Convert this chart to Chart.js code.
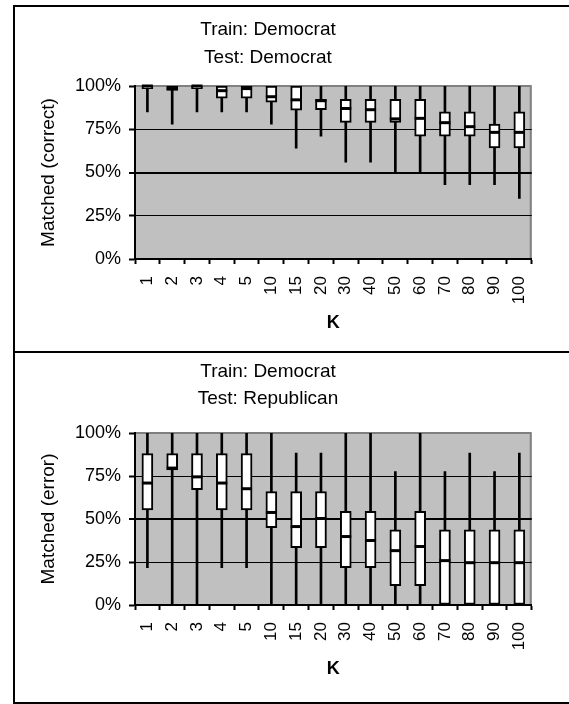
<!DOCTYPE html>
<html>
<head>
<meta charset="utf-8">
<script src="https://cdn.jsdelivr.net/npm/chart.js@4/dist/chart.umd.min.js"></script>
<style>
  html, body { margin: 0; padding: 0; overflow: hidden; background: #fff; width: 569px; height: 704px; }
  #frame { position: absolute; left: 13px; top: 5px; width: 620px; height: 699px; border: 2px solid #000; box-sizing: border-box; }
  #divider { position: absolute; left: 13px; top: 351px; width: 620px; height: 2px; background: #000; }
  canvas { position: absolute; left: -15px; }
  #topChart { top: 5px; }
  #bottomChart { top: 353px; }
</style>
</head>
<body>
<div id="frame"></div>
<div id="divider"></div>
<canvas id="topChart" width="567" height="346"></canvas>
<canvas id="bottomChart" width="567" height="349"></canvas>
<script>
// categories and tick labels
const kLabels = ["1", "2", "3", "4", "5", "10", "15", "20", "30", "40", "50", "60", "70", "80", "90", "100"];
const yTicks = [0, 25, 50, 75, 100];

// Train: Democrat / Test: Democrat  (matched, correct)
const correctMin = [85, 78, 85, 85, 85, 78, 64, 71, 56, 56, 49.5, 50, 43, 43, 43, 35];
const correctQ1 = [98.5, 97.5, 98.5, 93, 93, 90.6, 86, 86.3, 79, 79, 79, 71, 71, 71, 64.2, 64.2];
const correctMedian = [100, 98.5, 100, 97.3, 98.5, 93.8, 92, 91.5, 87, 86.3, 81, 81.3, 78.8, 76.5, 73.2, 73.2];
const correctQ3 = [100, 100, 100, 100, 100, 100, 100, 92.3, 92.3, 92.3, 92.3, 92.3, 85, 85, 78, 85];
const correctMax = [100, 100, 100, 100, 100, 100, 100, 100, 100, 100, 100, 100, 100, 100, 100, 100];

// Train: Democrat / Test: Republican  (matched, error)
const errorMin = [21.7, 0, 0, 21.7, 21.7, 0, 0, 0, 0, 0, 0, 0, 0, 0, 0, 0];
const errorQ1 = [55.3, 78.6, 67, 55.3, 55.3, 45, 33.4, 33.4, 21.7, 21.7, 11.3, 11.3, 0, 0, 0, 0];
const errorMedian = [70.9, 79.6, 74.5, 70.9, 67.6, 53.8, 45.6, 50.3, 39.8, 37.5, 31.6, 34, 25.8, 24.6, 24.6, 24.6];
const errorQ3 = [88.1, 88.1, 88.1, 88.1, 88.1, 66, 66, 66, 54.4, 54.4, 43.7, 54.4, 43.7, 43.7, 43.7, 43.7];
const errorMax = [100, 100, 100, 100, 100, 100, 88.3, 88.3, 100, 100, 77.6, 100, 77.6, 88.3, 77.6, 88.3];

Chart.defaults.font.family = "'Liberation Sans', Arial, sans-serif";
Chart.defaults.color = "#000";

// grey plot area with grey top/right edge, like the old spreadsheet charts
const plotBg = {
  id: "plotBg",
  beforeDraw(chart) {
    const { ctx, chartArea: a } = chart;
    ctx.save();
    ctx.fillStyle = "#c0c0c0";
    ctx.fillRect(a.left, a.top, a.right - a.left, a.bottom - a.top);
    ctx.strokeStyle = "#808080";
    ctx.lineWidth = 2;
    ctx.beginPath();
    ctx.moveTo(a.left, a.top);
    ctx.lineTo(a.right - 1, a.top);
    ctx.lineTo(a.right - 1, a.bottom);
    ctx.stroke();
    ctx.restore();
  },
};

function boxChart(id, titleLines, yTitle, mins, q1s, medians, q3s, maxs, o) {
  return new Chart(document.getElementById(id), {
    type: "bar",
    data: {
      labels: kLabels,
      datasets: [
        {
          type: "line",
          data: medians,
          showLine: false,
          pointStyle: "line",
          pointRadius: 5.5,
          pointBorderWidth: 3,
          pointBorderColor: "#000",
          clip: false,
          order: 0,
        },
        {
          data: q1s.map((v, i) => [v, q3s[i]]),
          barThickness: 11,
          backgroundColor: "#fff",
          borderColor: "#000",
          borderWidth: 2,
          borderSkipped: false,
          grouped: false,
          order: 1,
        },
        {
          data: mins.map((v, i) => [v, maxs[i]]),
          barThickness: 2,
          backgroundColor: "#000",
          borderWidth: 0,
          grouped: false,
          order: 2,
        },
      ],
    },
    options: {
      responsive: false,
      animation: false,
      layout: { padding: { left: 0, right: 1, top: 0, bottom: 0 } },
      plugins: {
        legend: { display: false },
        tooltip: { enabled: false },
        title: {
          display: true,
          text: titleLines,
          color: "#000",
          font: { size: 19, weight: "normal", lineHeight: o.titleLh + "px" },
          padding: { top: o.titleTop, bottom: o.titleBottom },
        },
      },
      scales: {
        x: {
          offset: true,
          grid: { offset: true, drawOnChartArea: false, tickLength: 5, tickColor: "#000", tickWidth: 2 },
          border: { color: "#000", width: 2 },
          ticks: { font: { size: 17 }, minRotation: 90, maxRotation: 90, padding: 12, autoSkip: false },
          title: {
            display: true,
            text: "K",
            font: { size: 18, weight: "bold" },
            padding: { top: 0, bottom: o.kBottom },
          },
          afterFit: (s) => { s.height = o.xHeight; },
        },
        y: {
          min: 0,
          max: 100,
          afterBuildTicks: (s) => { s.ticks = yTicks.map((v) => ({ value: v })); },
          grid: {
            color: (c) => (c.tick && c.tick.value === 100 ? "rgba(0,0,0,0)" : "#000"),
            lineWidth: (c) => (c.tick && c.tick.value === 50 ? 2 : 1),
            tickLength: 6,
            tickColor: "#000",
            tickWidth: 2,
          },
          border: { color: "#000", width: 2 },
          ticks: { font: { size: 18 }, padding: 8, callback: (v) => v + "%" },
          title: {
            display: true,
            text: yTitle,
            font: { size: 19 },
            padding: { top: 52, bottom: 0 },
          },
          afterFit: (s) => { s.width = 150; },
        },
      },
    },
    plugins: [plotBg],
  });
}

boxChart("topChart", ["Train: Democrat", "Test: Democrat"], "Matched (correct)",
  correctMin, correctQ1, correctMedian, correctQ3, correctMax,
  { titleLh: 28, titleTop: 11, titleBottom: 14, xHeight: 92, kBottom: 17 });

boxChart("bottomChart", ["Train: Democrat", "Test: Republican"], "Matched (error)",
  errorMin, errorQ1, errorMedian, errorQ3, errorMax,
  { titleLh: 27, titleTop: 5.5, titleBottom: 20.5, xHeight: 97, kBottom: 22 });
</script>
</body>
</html>
